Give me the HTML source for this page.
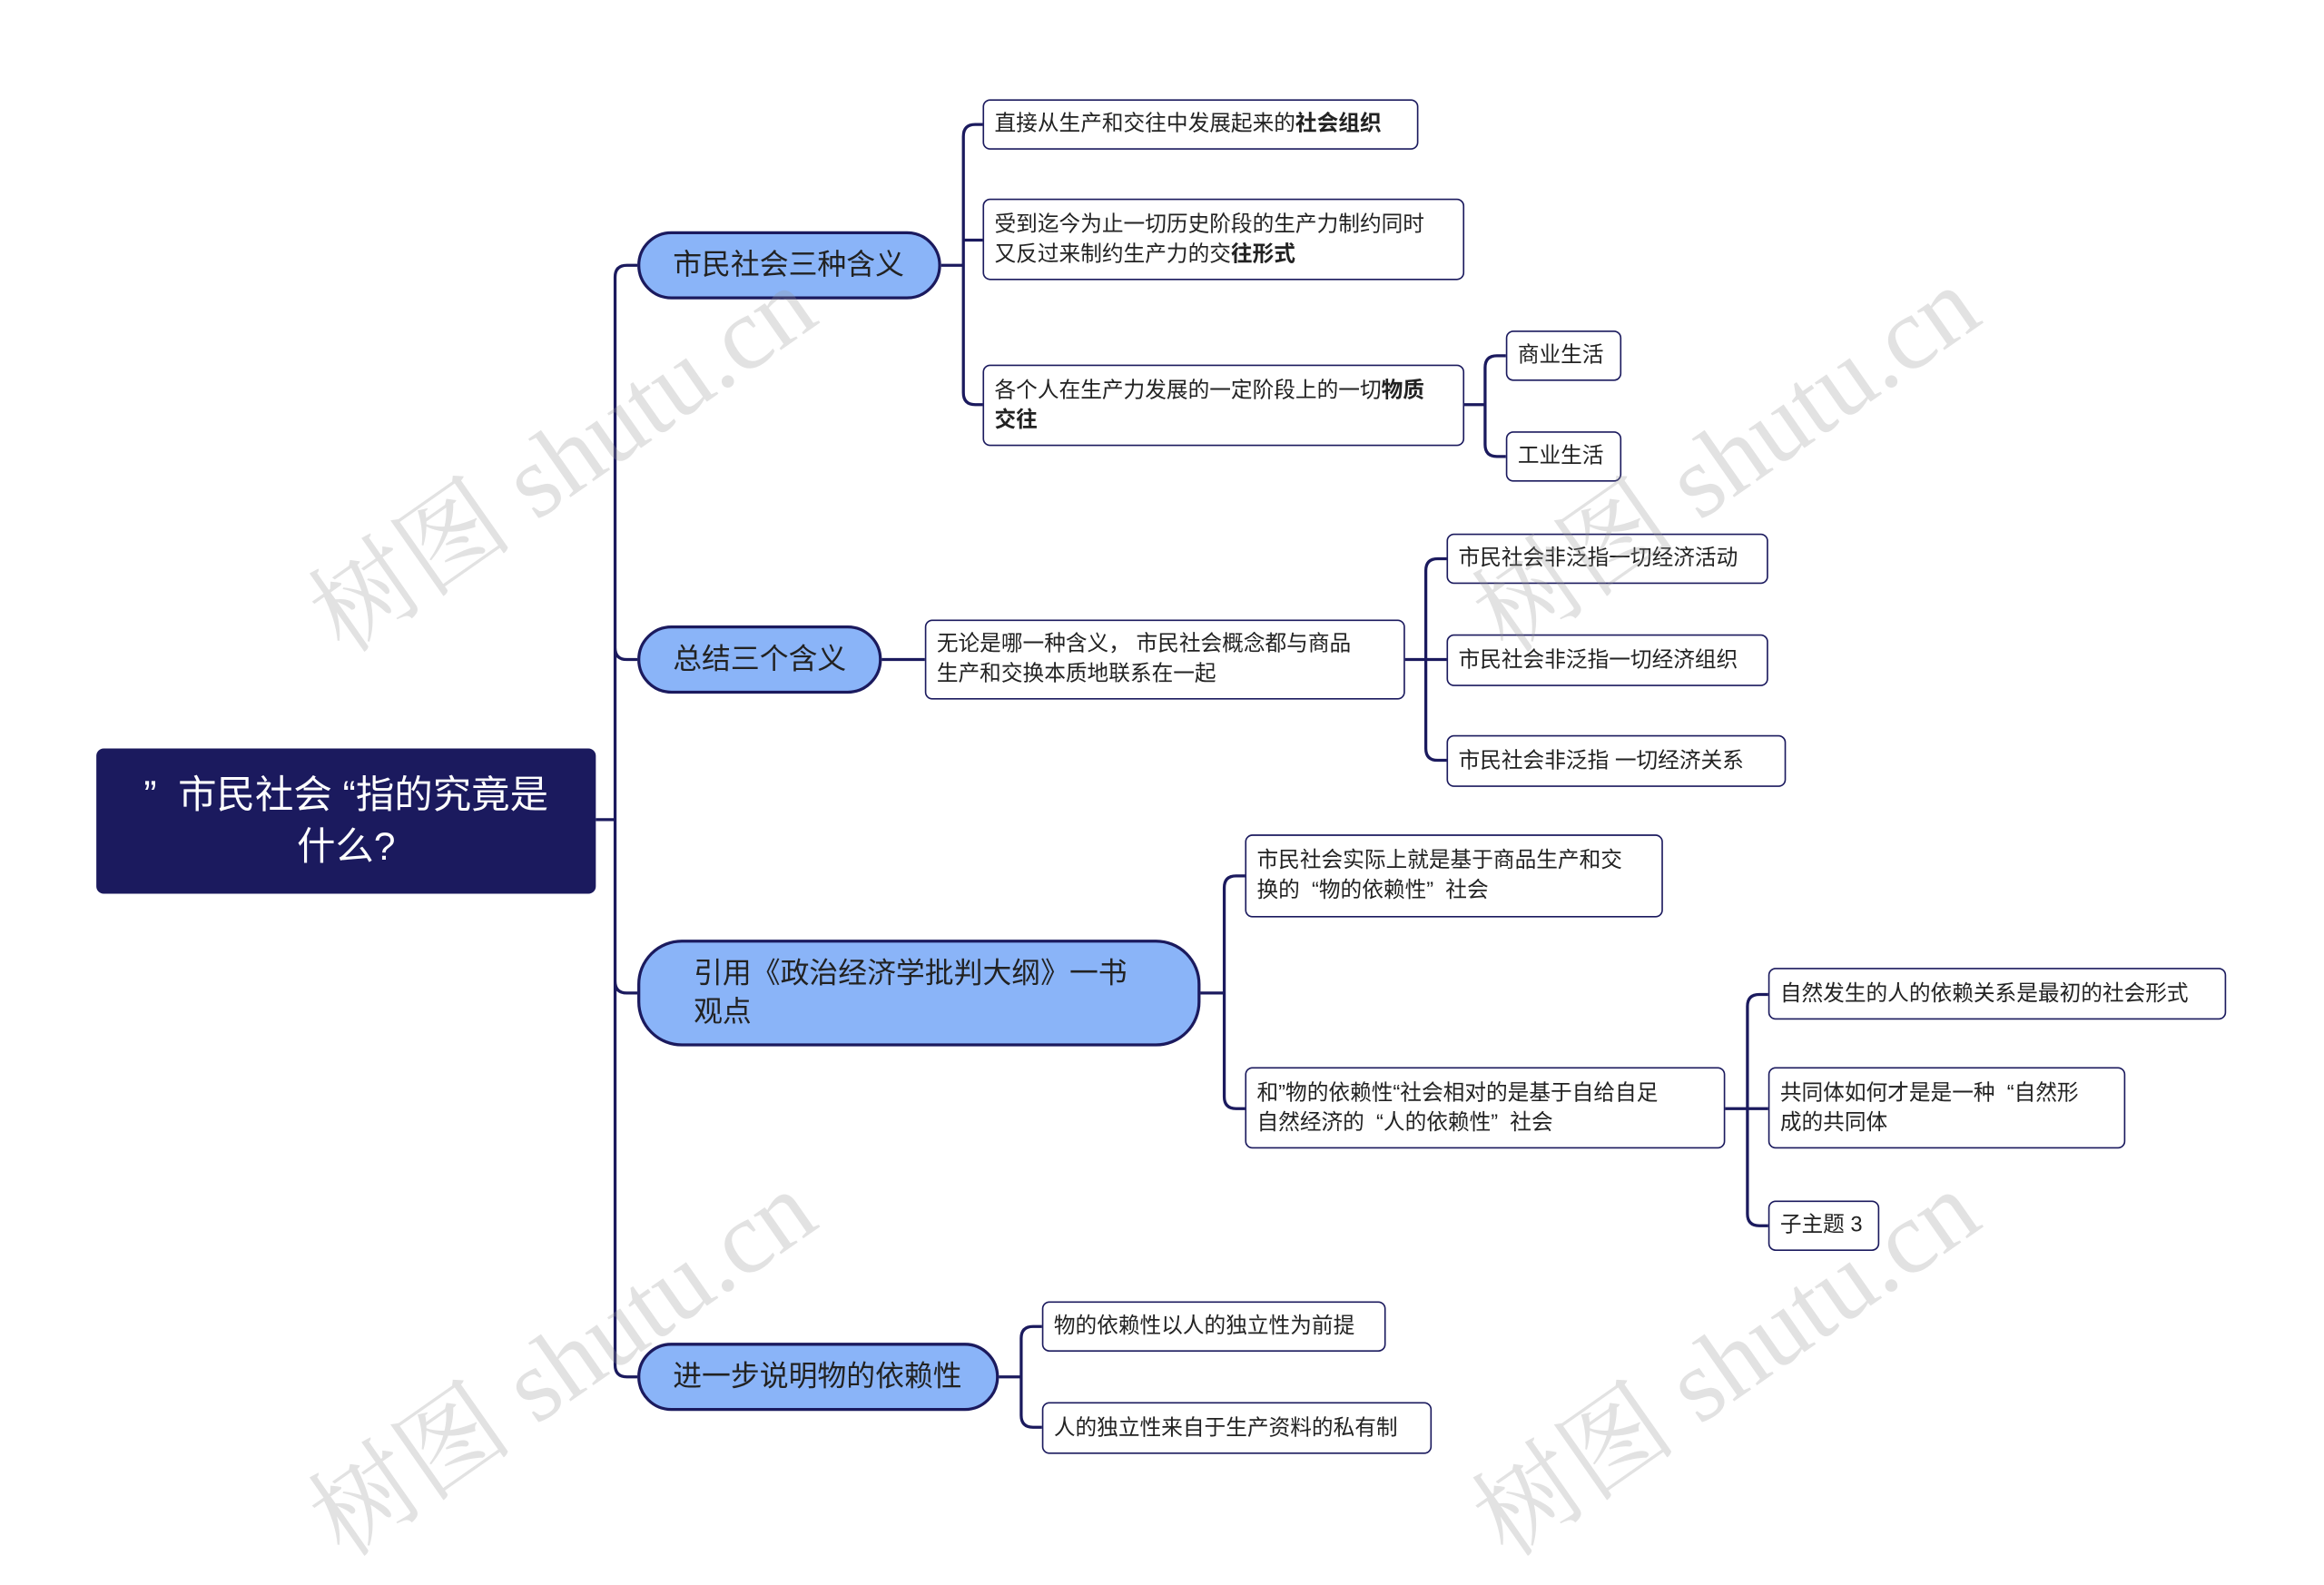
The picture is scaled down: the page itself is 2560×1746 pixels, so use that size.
<!DOCTYPE html>
<html><head><meta charset="utf-8"><style>
html,body{margin:0;padding:0;background:#fff;width:2560px;height:1710px;overflow:hidden}
#w{position:absolute;left:0;top:0;width:1568px;height:1047px;transform:scale(1.63265);transform-origin:0 0;font-family:"Liberation Sans","Noto Sans CJK SC",sans-serif;color:#222}
.n{position:absolute;box-sizing:border-box;background:#fff;border:1.3px solid #1b1a5e;border-radius:5px;font-size:14.5px;line-height:20px;padding:0 7px;display:flex;align-items:center;white-space:nowrap}
.p{position:absolute;box-sizing:border-box;background:#8ab4f8;border:2px solid #1b1a5e;border-radius:30px;font-size:19.5px;line-height:26px;display:flex;align-items:center;padding-left:22px;color:#222}
.root{position:absolute;left:65px;top:505px;width:337px;height:98px;background:#1b1a5e;border-radius:5px;color:#fff;font-size:26px;line-height:35px;text-align:center;display:flex;align-items:center;justify-content:center}
.wm{position:absolute;font-family:"Liberation Serif","Noto Serif CJK SC",serif;font-size:70px;color:rgba(150,150,150,0.28);transform:rotate(-35deg);transform-origin:center;white-space:nowrap}
svg{position:absolute;left:0;top:0}
</style></head><body><div id="w">
<svg width="1568" height="1047" fill="none" stroke="#1b1a5e" stroke-width="2">
<path d="M402 553H415M415 187Q415 179 423 179H430M415 437Q415 445 423 445H430M415 662Q415 670 423 670H430M415 921Q415 929 423 929H430M415 187V921"/>
<path d="M635 179H650M650 92Q650 84 658 84H663M650 162H663M650 265Q650 273 658 273H663M650 92V265"/>
<path d="M988 273H1002M1002 248Q1002 240 1010 240H1016M1002 300Q1002 308 1010 308H1016M1002 248V300"/>
<path d="M595 445H624M948 445H962M962 385Q962 377 970 377H976M962 445H976M962 505Q962 513 970 513H976M962 385V505"/>
<path d="M810 670H826M826 599Q826 591 834 591H840M826 740Q826 748 834 748H840M826 599V740"/>
<path d="M1164 748H1179M1179 679Q1179 671 1187 671H1193M1179 748H1193M1179 819Q1179 827 1187 827H1193M1179 679V819"/>
<path d="M674 929H689M689 903Q689 895 697 895H703M689 955Q689 963 697 963H703M689 903V955"/>
</svg>
<div class="root"><span>”&nbsp;&nbsp;市民社会&nbsp;“指的究竟是<br>什么?</span></div>
<div class="p" style="left:430px;top:156px;width:205px;height:46px"><span>市民社会三种含义</span></div>
<div class="p" style="left:430px;top:422px;width:165px;height:46px"><span>总结三个含义</span></div>
<div class="p" style="left:430px;top:634px;width:380px;height:72px;padding-left:36px"><span>引用《政治经济学批判大纲》一书<br>观点</span></div>
<div class="p" style="left:430px;top:906px;width:244px;height:46px"><span>进一步说明物的依赖性</span></div>
<div class="n" style="left:663px;top:67px;width:294px;height:34px"><span>直接从生产和交往中发展起来的<b>社会组织</b></span></div>
<div class="n" style="left:663px;top:134px;width:325px;height:55px"><span>受到迄今为止一切历史阶段的生产力制约同时<br>又反过来制约生产力的交<b>往形式</b></span></div>
<div class="n" style="left:663px;top:246px;width:325px;height:55px"><span>各个人在生产力发展的一定阶段上的一切<b>物质</b><br><b>交往</b></span></div>
<div class="n" style="left:1016px;top:223px;width:78px;height:34px"><span>商业生活</span></div>
<div class="n" style="left:1016px;top:291px;width:78px;height:34px"><span>工业生活</span></div>
<div class="n" style="left:624px;top:418px;width:324px;height:54px"><span>无论是哪一种含义， 市民社会概念都与商品<br>生产和交换本质地联系在一起</span></div>
<div class="n" style="left:976px;top:360px;width:217px;height:34px"><span>市民社会非泛指一切经济活动</span></div>
<div class="n" style="left:976px;top:428px;width:217px;height:35px"><span>市民社会非泛指一切经济组织</span></div>
<div class="n" style="left:976px;top:496px;width:229px;height:35px"><span>市民社会非泛指 一切经济关系</span></div>
<div class="n" style="left:840px;top:563px;width:282px;height:56px"><span>市民社会实际上就是基于商品生产和交<br>换的 &nbsp;“物的依赖性” &nbsp;社会</span></div>
<div class="n" style="left:840px;top:720px;width:324px;height:55px"><span>和”物的依赖性“社会相对的是基于自给自足<br>自然经济的 &nbsp;“人的依赖性” &nbsp;社会</span></div>
<div class="n" style="left:1193px;top:653px;width:309px;height:35px"><span>自然发生的人的依赖关系是最初的社会形式</span></div>
<div class="n" style="left:1193px;top:720px;width:241px;height:55px"><span>共同体如何才是是一种 &nbsp;“自然形<br>成的共同体</span></div>
<div class="n" style="left:1193px;top:810px;width:75px;height:34px"><span>子主题 3</span></div>
<div class="n" style="left:703px;top:878px;width:232px;height:34px"><span>物的依赖性以人的独立性为前提</span></div>
<div class="n" style="left:703px;top:946px;width:263px;height:35px"><span>人的独立性来自于生产资料的私有制</span></div>
<div class="wm" style="left:180px;top:255px">树图 shutu.cn</div>
<div class="wm" style="left:965px;top:255px">树图 shutu.cn</div>
<div class="wm" style="left:180px;top:865px">树图 shutu.cn</div>
<div class="wm" style="left:965px;top:865px">树图 shutu.cn</div>
</div></body></html>
